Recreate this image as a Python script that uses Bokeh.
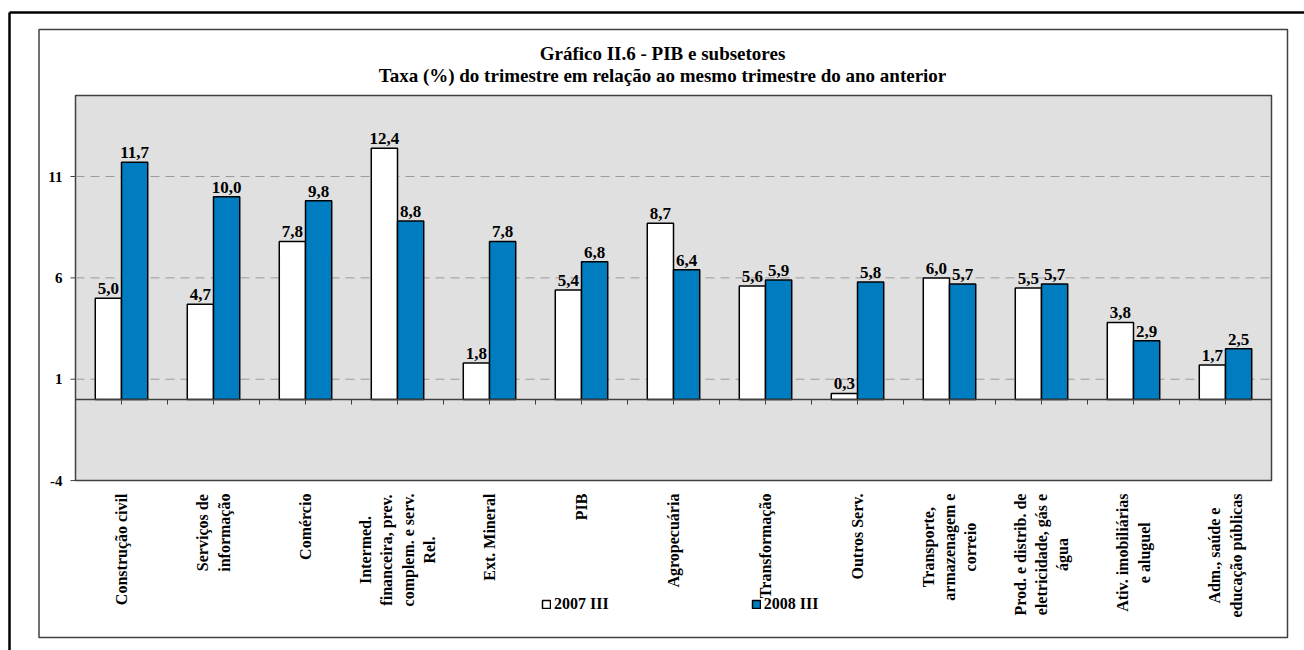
from math import pi
from bokeh.plotting import figure
from bokeh.models import ColumnDataSource, Range1d
from bokeh.core.properties import value
from bokeh.embed import file_html
from bokeh.resources import INLINE

# ---- data ----
categories = [
    "Construção civil",
    "Serviços de\ninformação",
    "Comércio",
    "Intermed.\nfinanceira, prev.\ncomplem. e serv.\nRel.",
    "Ext. Mineral",
    "PIB",
    "Agropecuária",
    "Transformação",
    "Outros Serv.",
    "Transporte,\narmazenagem e\ncorreio",
    "Prod. e distrib. de\neletricidade, gás e\nágua",
    "Ativ. imobiliárias\ne aluguel",
    "Adm., saúde e\neducação públicas",
]
s2007_III = [5.0, 4.7, 7.8, 12.4, 1.8, 5.4, 8.7, 5.6, 0.3, 6.0, 5.5, 3.8, 1.7]
s2008_III = [11.7, 10.0, 9.8, 8.8, 7.8, 6.8, 6.4, 5.9, 5.8, 5.7, 5.7, 2.9, 2.5]
series_names = ["2007 III", "2008 III"]
y_ticks = [-4, 1, 6, 11]
grid_ticks = [1, 6, 11]
y_min, y_max = -4, 15
title_lines = ["Gráfico II.6 - PIB e subsetores",
               "Taxa (%) do trimestre em relação ao mesmo trimestre do ano anterior"]

def fmt(v):
    return f"{v:.1f}".replace(".", ",")

n = len(categories)
W = 0.285  # bar width (category units)
xc = [i + 0.5 for i in range(n)]
src = ColumnDataSource(dict(
    cat=categories, xc=xc,
    xa=[x - W / 2 for x in xc], xb=[x + W / 2 for x in xc],
    a=s2007_III, b=s2008_III,
    la=[fmt(v) for v in s2007_III],
    lb=[fmt(v) for v in s2008_III],
))

FONT = value("Liberation Serif")
GRAY = "#E0E0E0"
BLUE = "#007CC0"
DARK = "#404040"

# layout: pixels per unit, canvas covers the whole chart
PXX, PXY = 92.0, 20.27
FW, FH = 1304, 650
x0_px, y0_px = 75.0, 399.0          # canvas px of x=0 and y=0
x_range = Range1d(-x0_px / PXX, (FW - x0_px) / PXX)
y_range = Range1d(-(FH - y0_px) / PXY, y0_px / PXY)

def xd(px):  # canvas px -> data x
    return (px - x0_px) / PXX

def yd(py):  # canvas px -> data y
    return (y0_px - py) / PXY

p = figure(x_range=x_range, y_range=y_range, width=FW, height=FH,
           min_border=0, x_axis_location=None, y_axis_location=None,
           toolbar_location=None, output_backend="svg", title=None)
p.background_fill_color = "white"
p.border_fill_color = "white"
p.outline_line_color = None
p.xgrid.visible = False
p.ygrid.visible = False

# outer black frame (top & left)
p.segment(x0=[xd(9), xd(9)], y0=[yd(12), yd(12)], x1=[xd(FW + 10), xd(9)], y1=[yd(12), yd(FH + 10)],
          line_color="black", line_width=2.5)
# chart box
p.quad(left=[xd(38.5)], right=[xd(1287)], top=[yd(29)], bottom=[yd(637)],
       fill_color=None, line_color=DARK, line_width=1.5)

# plot area
p.quad(left=[0], right=[n], bottom=[y_min], top=[y_max],
       fill_color=GRAY, line_color=DARK, line_width=1.5)

# grid lines
p.segment(x0=[0] * len(grid_ticks), x1=[n] * len(grid_ticks), y0=grid_ticks, y1=grid_ticks,
          line_color="#9a9a9a", line_dash="9 6", line_width=1)

# y ticks and labels
p.segment(x0=[0] * len(y_ticks), x1=[-5 / PXX] * len(y_ticks), y0=y_ticks, y1=y_ticks,
          line_color=DARK, line_width=1)
p.text(x=[0] * len(y_ticks), y=y_ticks, text=[str(t) for t in y_ticks], x_offset=-13,
       text_align="right", text_baseline="middle", text_font=FONT,
       text_font_style="bold", text_font_size="15px", text_color="black")

# bars
p.vbar(x="xa", top="a", width=W, bottom=0, source=src,
       fill_color="white", line_color="black", line_width=1.5, legend_label=series_names[0])
p.vbar(x="xb", top="b", width=W, bottom=0, source=src,
       fill_color=BLUE, line_color="black", line_width=1.5, legend_label=series_names[1])

# zero line and category ticks
p.segment(x0=[0], x1=[n], y0=[0], y1=[0], line_color=DARK, line_width=1.5)
tick_x = [i * 0.5 for i in range(2 * n + 1)]
p.segment(x0=tick_x, x1=tick_x, y0=[0] * len(tick_x), y1=[-5 / PXY] * len(tick_x),
          line_color=DARK, line_width=1)

# value labels
for xcol, col, lab in (("xa", "a", "la"), ("xb", "b", "lb")):
    p.text(x=xcol, y=col, text=lab, source=src,
           text_align="center", text_baseline="bottom", y_offset=-4,
           text_font=FONT, text_font_style="bold", text_font_size="17px",
           text_color="black")

# category labels (rotated, lines centred, block end anchored below the plot area)
p.text(x="xc", y=y_min, y_offset=13, text="cat", source=src, angle=pi / 2,
       anchor="center_right", text_align="center", text_baseline="middle",
       text_line_height=1.25,
       text_font=FONT, text_font_style="bold", text_font_size="16px",
       text_color="black")

# titles
p.text(x=[xd(662)] * 2, y=[yd(53), yd(75)], text=title_lines,
       text_align="center", text_baseline="alphabetic", text_font=FONT,
       text_font_style="bold", text_font_size="19px", text_color="black")

# legend
lg = p.legend[0]
lg.orientation = "horizontal"
lg.location = (541, 37)
lg.background_fill_alpha = 0
lg.border_line_color = None
lg.padding = 0
lg.margin = 0
lg.spacing = 142
lg.glyph_width = 10
lg.glyph_height = 10
lg.label_standoff = 3
lg.label_text_font = "Liberation Serif"
lg.label_text_font_style = "bold"
lg.label_text_font_size = "16px"
lg.label_text_color = "black"

open("out.html", "w").write(file_html(p, INLINE))
